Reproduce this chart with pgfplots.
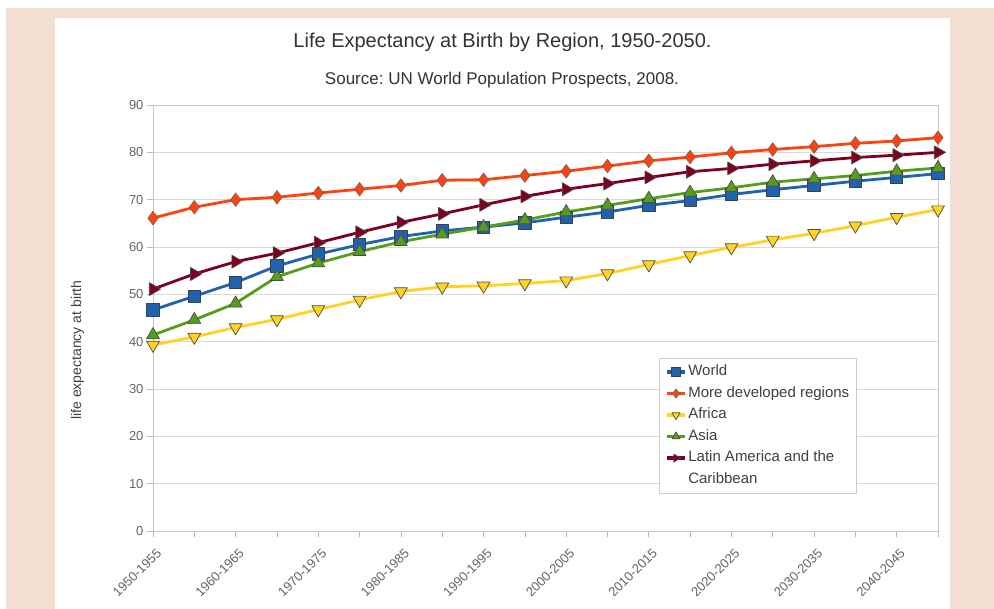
\documentclass[border=0pt]{standalone}
\usepackage{fontspec}
\setmainfont{Liberation Sans}
\usepackage{pgfplots}
\pgfplotsset{compat=1.18}
\frenchspacing
\definecolor{bgbeige}{RGB}{243,223,209}
\definecolor{cWorld}{RGB}{30,98,176}
\definecolor{cMore}{RGB}{255,66,14}
\definecolor{cAfrica}{RGB}{255,211,32}
\definecolor{cAsia}{RGB}{87,157,28}
\definecolor{cLatin}{RGB}{126,0,33}
\definecolor{tickgray}{RGB}{100,100,112}

\begin{document}
\begin{tikzpicture}
\useasboundingbox (0pt,0pt) rectangle (994pt,609pt);
\fill[white] (0pt,0pt) rectangle (994pt,609pt);
\fill[bgbeige] (6pt,0pt) rectangle (994pt,601pt);
\fill[white] (55pt,0pt) rectangle (950pt,591pt);
\node[font=\fontsize{20}{24}\selectfont, text=black!80] at (502.5pt,567pt) {Life Expectancy at Birth by Region, 1950-2050.};
\node[font=\fontsize{17}{20}\selectfont, text=black!80] at (502pt,529pt) {Source: UN World Population Prospects, 2008.};
\node[rotate=90, font=\fontsize{14}{16}\selectfont, text=black!75] at (77.5pt,259pt) {life expectancy at birth};
\begin{axis}[
  at={(153pt,78pt)}, anchor=south west, scale only axis,
  width=785pt, height=426pt,
  xmin=0, xmax=19, ymin=0, ymax=90,
  clip=false,
  axis line style={draw=gray!45, line width=0.6pt},
  ymajorgrids, major grid style={gray!30, line width=0.6pt},
  tick align=outside, major tick length=6pt,
  xtick pos=bottom, ytick pos=left,
  tick style={gray!55, line width=0.6pt},
  ytick={0,10,...,90},
  xtick={0,...,19},
  xticklabels={1950-1955,,1960-1965,,1970-1975,,1980-1985,,1990-1995,,2000-2005,,2010-2015,,2020-2025,,2030-2035,,2040-2045,},
  /pgf/number format/assume math mode=true,
  yticklabel style={font=\fontsize{13}{15}\selectfont, text=tickgray},
  xticklabel style={font=\fontsize{13}{15}\selectfont, text=tickgray, rotate=45, anchor=east, yshift=-14pt, xshift=-2pt},
  every axis plot/.append style={line width=2.8pt, line join=round},
  legend style={at={(0.6446,0.4061)}, anchor=north west, draw=gray!40, line width=0.6pt, fill=white,
    font=\fontsize{15}{17}\selectfont, text=black!75, inner xsep=6pt, inner ysep=6.5pt, row sep=7pt,
    nodes={inner xsep=1.5pt, inner ysep=0pt, text height=11pt, text depth=3.5pt}},
  legend cell align=left,
  legend image code/.code={\draw[mark repeat=2,mark phase=2,#1,line width=3.5pt,mark size=4.6pt] plot coordinates {(0pt,0pt) (9pt,0pt) (18pt,0pt)};},
]
\addplot[color=cWorld, mark=square*, mark size=6.2pt, mark options={draw=black!75, fill=cWorld, line width=0.8pt}] coordinates {
(0,46.7) (1,49.6) (2,52.5) (3,56.0) (4,58.5) (5,60.5) (6,62.2) (7,63.4) (8,64.2) (9,65.1)
(10,66.3) (11,67.4) (12,68.8) (13,69.8) (14,71.1) (15,72.1) (16,73.0) (17,73.9) (18,74.7) (19,75.5)};
\addlegendentry{World}
\addplot[color=cMore, mark=diamond*, mark size=6.8pt, mark options={draw=black!60, fill=cMore, line width=0.6pt}] coordinates {
(0,66.1) (1,68.4) (2,70.0) (3,70.5) (4,71.4) (5,72.2) (6,73.0) (7,74.1) (8,74.2) (9,75.1)
(10,76.0) (11,77.1) (12,78.2) (13,79.0) (14,79.9) (15,80.6) (16,81.2) (17,81.9) (18,82.4) (19,83.1)};
\addlegendentry{More developed regions}
\addplot[color=cAfrica, mark=triangle*, mark size=7.5pt, mark options={draw=black!70, fill=cAfrica, line width=0.7pt, rotate=180}] coordinates {
(0,39.3) (1,41.0) (2,43.0) (3,44.7) (4,46.8) (5,48.8) (6,50.6) (7,51.6) (8,51.8) (9,52.3)
(10,52.9) (11,54.4) (12,56.3) (13,58.2) (14,59.9) (15,61.5) (16,62.9) (17,64.5) (18,66.3) (19,67.9)};
\addlegendentry{Africa}
\addplot[color=cAsia, mark=triangle*, mark size=7.5pt, mark options={draw=black!70, fill=cAsia, line width=0.7pt}] coordinates {
(0,41.4) (1,44.6) (2,48.1) (3,53.7) (4,56.6) (5,59.0) (6,61.1) (7,62.7) (8,64.2) (9,65.7)
(10,67.4) (11,68.8) (12,70.2) (13,71.5) (14,72.5) (15,73.7) (16,74.4) (17,75.1) (18,76.0) (19,76.7)};
\addlegendentry{Asia}
\addplot[color=cLatin, mark=triangle*, mark size=7.5pt, mark options={draw=black!70, fill=cLatin, line width=0.7pt, rotate=-90}] coordinates {
(0,51.1) (1,54.3) (2,56.9) (3,58.7) (4,60.9) (5,63.1) (6,65.2) (7,67.0) (8,68.9) (9,70.7)
(10,72.2) (11,73.4) (12,74.7) (13,75.9) (14,76.6) (15,77.5) (16,78.2) (17,78.9) (18,79.4) (19,80.0)};
\addlegendentry{Latin America and the}
\addlegendimage{empty legend}
\addlegendentry{Caribbean}
\end{axis}
\end{tikzpicture}
\end{document}
